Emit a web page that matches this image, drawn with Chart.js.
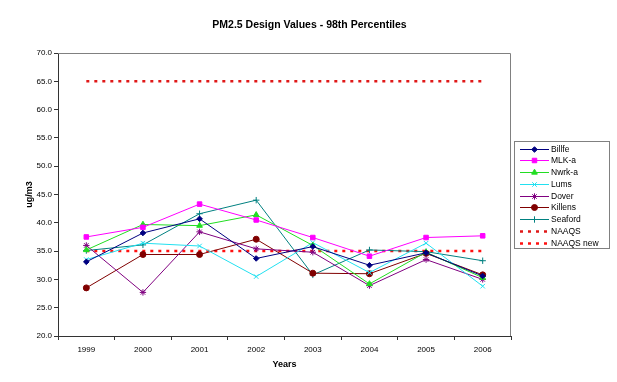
<!DOCTYPE html>
<html><head><meta charset="utf-8">
<script src="https://cdn.jsdelivr.net/npm/chart.js@4/dist/chart.umd.min.js"></script>
<style>html,body{margin:0;padding:0;background:#fff;}#wrap{width:617px;height:382px;}</style>
</head><body><div id="wrap"><canvas id="c" width="617" height="382"></canvas></div>
<script>
const years = ['1999','2000','2001','2002','2003','2004','2005','2006'];
const billfe  = [33.1, 38.2, 40.7, 33.7, 35.8, 32.5, 34.7, 30.6];
const mlka    = [37.5, 39.2, 43.3, 40.5, 37.4, 34.1, 37.4, 37.7];
const nwrka   = [35.2, 39.7, 39.5, 41.4, 36.0, 29.2, 34.8, 30.3];
const lums    = [33.5, 36.4, 35.9, 30.5, 36.5, 31.2, 36.4, 28.8];
const dover   = [36.0, 27.7, 38.4, 35.4, 34.8, 28.9, 33.5, 30.0];
const killens = [28.5, 34.4, 34.4, 37.1, 31.1, 31.0, 34.6, 30.8];
const seaford = [35.1, 36.1, 41.6, 44.0, 30.8, 35.2, 34.9, 33.3];
const naaqs    = [65, 65, 65, 65, 65, 65, 65, 65];
const naaqsNew = [35, 35, 35, 35, 35, 35, 35, 35];
const yTicks = [20, 25, 30, 35, 40, 45, 50, 55, 60, 65, 70];
const chartTitle = 'PM2.5 Design Values - 98th Percentiles';

const FONT = 'Liberation Sans, Arial, sans-serif';
Chart.defaults.font.family = FONT;
Chart.defaults.color = '#000';

function ser(label, data, color, style, radius) {
  return {label, data, borderColor: color, backgroundColor: color, pointStyle: style,
    pointRadius: radius, pointHoverRadius: radius, pointBorderWidth: 1, borderWidth: 1, tension: 0};
}
function ref(label, data, color) {
  return {label, data, borderColor: color, backgroundColor: color, borderDash: [3, 5],
    borderWidth: 2.5, pointRadius: 0, pointStyle: 'line', tension: 0};
}

const datasets = [
  ser('Billfe', billfe, '#000080', 'rectRot', 2.8),
  ser('MLK-a', mlka, '#FF00FF', 'rect', 3.2),
  ser('Nwrk-a', nwrka, '#22DD22', 'triangle', 3.3),
  ser('Lums', lums, '#22E0F0', 'crossRot', 3.2),
  ser('Dover', dover, '#800080', 'star', 3.2),
  ser('Killens', killens, '#800000', 'circle', 3),
  ser('Seaford', seaford, '#008080', 'cross', 3.2),
  ref('NAAQS', naaqs, '#E01818'),
  ref('NAAQS new', naaqsNew, '#FF1010')
];

const frame = {
  id: 'frame',
  beforeDatasetsDraw(chart) {
    const a = chart.chartArea, ctx = chart.ctx;
    ctx.save();
    ctx.strokeStyle = '#808080';
    ctx.lineWidth = 1;
    ctx.beginPath();
    ctx.moveTo(a.left, a.top + 0.5);
    ctx.lineTo(a.right - 0.5, a.top + 0.5);
    ctx.lineTo(a.right - 0.5, a.bottom);
    ctx.stroke();
    ctx.restore();
  }
};

const titleDraw = {
  id: 'titleDraw',
  afterDraw(chart) {
    const ctx = chart.ctx;
    ctx.save();
    ctx.fillStyle = '#000';
    ctx.font = 'bold 10.5px ' + FONT;
    ctx.textAlign = 'center';
    ctx.textBaseline = 'middle';
    ctx.fillText(chartTitle, chart.width / 2 + 1, 25);
    ctx.restore();
  }
};

const legendBox = {
  id: 'legendBox',
  afterDraw(chart) {
    const ctx = chart.ctx;
    const bx = 514, by = 141, bw = 95, bh = 107;
    ctx.save();
    ctx.strokeStyle = '#808080';
    ctx.lineWidth = 1;
    ctx.strokeRect(bx + 0.5, by + 0.5, bw, bh);
    chart.data.datasets.forEach((ds, i) => {
      const y = Math.round(148.5 + i * 11.75) + 0.5;
      ctx.save();
      ctx.strokeStyle = ds.borderColor;
      ctx.lineWidth = ds.borderWidth;
      ctx.setLineDash(ds.borderDash || []);
      ctx.beginPath();
      ctx.moveTo(520, y);
      ctx.lineTo(549, y);
      ctx.stroke();
      ctx.restore();
      if (ds.pointRadius > 0) {
        ctx.save();
        ctx.fillStyle = ds.backgroundColor;
        ctx.strokeStyle = ds.borderColor;
        ctx.lineWidth = 1;
        Chart.helpers.drawPoint(ctx, {pointStyle: ds.pointStyle, radius: ds.pointRadius, rotation: 0, borderWidth: 1}, 534.5, y);
        ctx.restore();
      }
      ctx.fillStyle = '#000';
      ctx.font = '8.5px ' + FONT;
      ctx.textBaseline = 'middle';
      ctx.textAlign = 'left';
      ctx.fillText(ds.label, 551, y);
    });
    ctx.restore();
  }
};

new Chart(document.getElementById('c'), {
  type: 'line',
  data: {labels: years, datasets},
  options: {
    responsive: false,
    animation: false,
    events: [],
    layout: {padding: {left: 24, right: 106, top: 53, bottom: 12}},
    plugins: {
      legend: {display: false},
      tooltip: {enabled: false},
      title: {display: false}
    },
    scales: {
      x: {
        type: 'category', offset: true,
        grid: {offset: true, drawOnChartArea: false, tickLength: 4, color: '#333'},
        border: {color: '#333'},
        ticks: {font: {size: 8, family: FONT}, color: '#000', padding: 5, maxRotation: 0, autoSkip: false},
        title: {display: true, text: 'Years', font: {size: 9, weight: 'bold', family: FONT}, color: '#000', padding: {top: 1, bottom: 0}},
        afterFit(s) { s.height = 34; }
      },
      y: {
        min: yTicks[0], max: yTicks[yTicks.length - 1],
        afterBuildTicks(s) { s.ticks = yTicks.map(v => ({value: v})); },
        ticks: {font: {size: 8, family: FONT}, color: '#000', padding: 2, callback: v => Number(v).toFixed(1)},
        grid: {drawOnChartArea: false, tickLength: 4, color: '#333'},
        border: {color: '#333'},
        title: {display: true, text: 'ug/m3', font: {size: 9, weight: 'bold', family: FONT}, color: '#000', padding: 0},
        afterFit(s) { s.width = 34; }
      }
    }
  },
  plugins: [frame, titleDraw, legendBox]
});
</script>
</body></html>
